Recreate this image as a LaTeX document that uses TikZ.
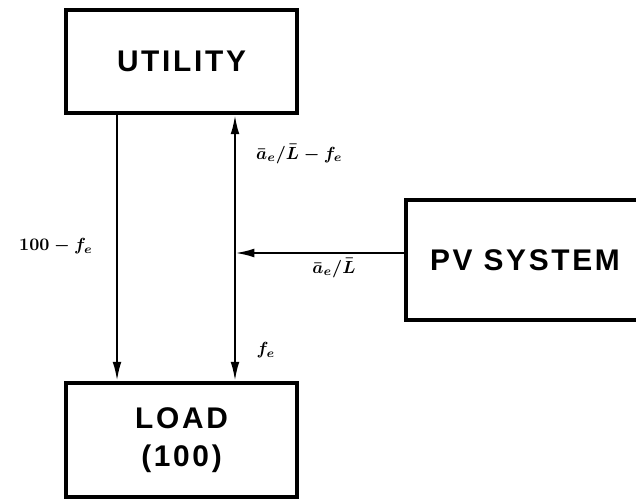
\documentclass[tikz,border=0pt]{standalone}
\usepackage{amsmath,amssymb}
\usepackage{fontspec}
\setmainfont{Liberation Sans}
\usepackage{tikz}
\usetikzlibrary{arrows.meta,positioning,calc}
\tikzset{
  Sbox/.style={draw, line width=2.2pt, align=center, inner sep=3pt,
               font=\fontsize{17}{22}\selectfont\bfseries\addfontfeatures{LetterSpace=9}},
  Narr/.style={-{Latex[length=11pt,width=5pt]}, line width=1.3pt},
  Darr/.style={{Latex[length=11pt,width=5pt]}-{Latex[length=11pt,width=5pt]}, line width=1.3pt},
  Flab/.style={font=\normalsize\boldmath}
}

\begin{document}
\begin{tikzpicture}[x=0.02cm,y=-0.02cm]
  \clip (0,0) rectangle (636,500);

  \node[Sbox, minimum width=4.62cm, minimum height=2.06cm] (util) at (181.5,61.5) {UTILITY};
  \node[Sbox, minimum width=4.62cm, minimum height=2.28cm] (load) at (181.5,440) {LOAD\\(100)};
  \node[Sbox, minimum width=4.76cm, minimum height=2.4cm] (pv) at (525,260) {PV SYSTEM};

  \coordinate (rt) at ([xshift=1.07cm]util.south);

  \draw[Narr] ([xshift=-1.29cm]util.south) -- ([xshift=-1.29cm]load.north);
  \draw[Darr] (rt) -- ([xshift=1.07cm]load.north);
  \draw[Narr] ([yshift=0.14cm]pv.west) -- ([yshift=0.14cm]pv.west -| rt);

  \node[Flab, anchor=west] (lq) at (250,154) {$\bar{a}_e/\bar{L} - f_e$};
  \node[Flab] (lf) at (56,246) {$100 - f_e$};
  \node[Flab] (lp) at (334,268) {$\bar{a}_e/\bar{L}$};
  \node[Flab] (le) at (266,350) {$f_e$};
\end{tikzpicture}
\end{document}
